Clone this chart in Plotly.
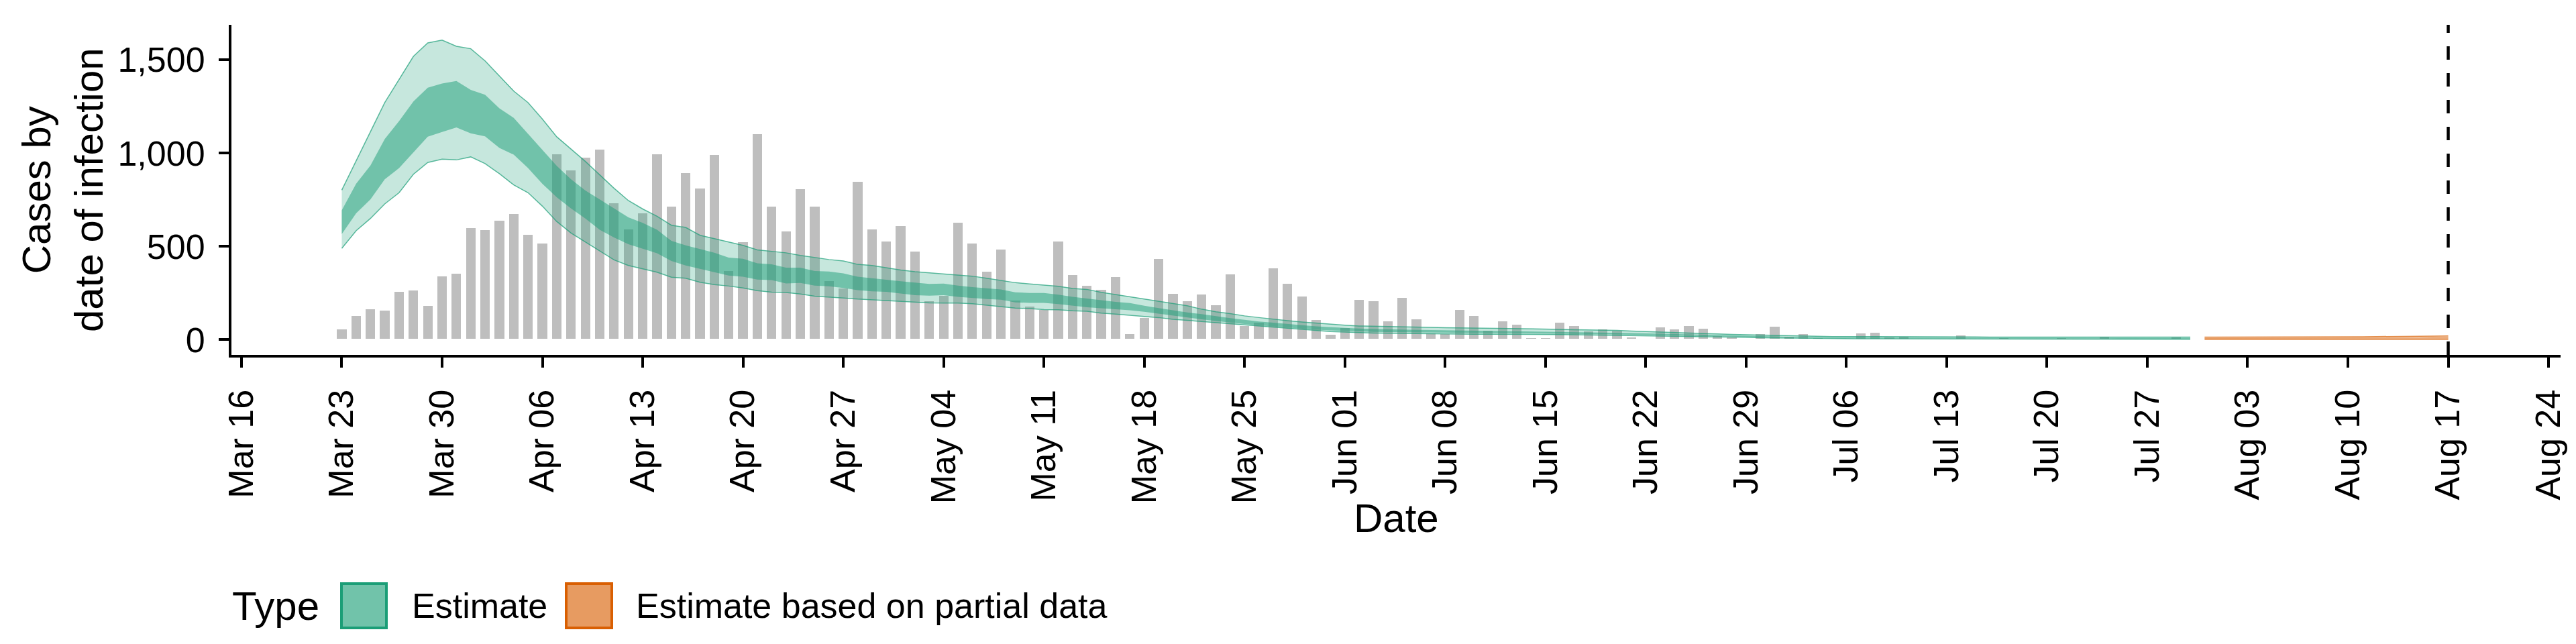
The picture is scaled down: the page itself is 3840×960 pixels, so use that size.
import datetime as dt
import pandas as pd
import plotly.graph_objects as go

# data
START = "2020-03-23"
PARTIAL_START = "2020-07-31"
FORECAST_DATE = "2020-08-17"

# reported cases by date, one value per day from START
cases = [
    58, 132, 168, 160, 261, 269, 186, 343, 359, 602, 592, 643, 679, 567, 520, 999,
    911, 978, 1024, 734, 594, 683, 996, 719,
    896, 815, 993, 371, 527, 1106, 716, 584, 811, 719, 317, 278, 851, 594, 532, 613,
    475, 212, 239, 630, 519, 367, 488, 215, 180, 164, 529, 351, 294, 270, 338, 34, 122,
    438, 249, 211, 247, 187, 353, 77, 96, 386, 305, 236, 108, 30, 68, 218, 209, 103,
    230, 112, 36, 33, 165, 130, 52, 104, 83, 12, 14, 94, 78, 48, 60, 53,
    16, 6, 71, 61, 78, 64, 23, 17, 6, 35, 74, 19, 33, 13, 8, 7, 37, 40, 16, 21, 5, 5,
    5, 28, 10, 10, 12, 4, 4, 4, 13, 4, 4, 18, 4, 4, 4, 4, 16,
]

# estimate ribbons (90% and 50% credible intervals), one value per day from START
est_upper_90 = [
    802, 956, 1115, 1271, 1393, 1519, 1591, 1606, 1573, 1560, 1495, 1414, 1333, 1271,
    1183, 1088, 1022, 956, 884, 812, 746, 701, 662, 614,
    602, 560, 542, 524, 506, 482, 474, 466, 452, 440, 430, 422, 404, 398, 386, 374,
    365, 359, 353, 348, 341, 330, 318, 306, 299, 293, 287, 275, 270, 254, 242, 230, 218,
    206, 194, 182, 164, 150, 140, 128, 119, 110, 102, 95, 89, 83, 78, 74, 72, 70, 68,
    67, 66, 65, 64, 64, 62, 61, 60, 59, 58, 56, 54, 53, 51, 50,
    47, 44, 42, 40, 37, 34, 31, 29, 27, 25, 23, 21, 19, 18, 17, 17, 17, 16, 16, 16,
    16, 15, 15, 15, 15, 14, 14, 14, 14, 14, 14, 14, 14, 14, 14, 14, 14, 14, 14, 14,
]
est_lower_90 = [
    490, 584, 650, 728, 788, 887, 950, 968, 964, 980, 944, 890, 830, 788, 716, 634,
    572, 524, 476, 428, 398, 380, 362, 335,
    330, 308, 296, 288, 278, 263, 255, 253, 245, 234, 230, 224, 218, 214, 210, 205,
    200, 198, 197, 197, 193, 186, 179, 170, 167, 162, 161, 155, 153, 143, 137, 131, 125,
    119, 110, 104, 98, 92, 86, 78, 72, 66, 60, 54, 49, 44, 41, 38, 36, 35, 34, 32, 31,
    31, 31, 30, 30, 30, 29, 29, 29, 28, 27, 26, 25, 24,
    23, 22, 21, 19, 18, 17, 16, 14, 13, 11, 10, 8, 7, 6, 6, 6, 5, 5, 5, 5, 5, 4, 4, 4,
    4, 4, 4, 4, 3, 3, 3, 3, 3, 3, 3, 3, 3, 3, 3, 3,
]
est_upper_50 = [
    694, 836, 934, 1076, 1172, 1277, 1351, 1373, 1387, 1339, 1313, 1240, 1189, 1102,
    1016, 932, 860, 800, 752, 704, 656, 626, 590, 530,
    506, 486, 466, 440, 434, 410, 404, 386, 386, 368, 366, 356, 338, 330, 323, 314,
    306, 299, 301, 290, 282, 275, 270, 254, 251, 251, 242, 230, 221, 212, 203, 197, 182,
    170, 158, 146, 137, 126, 116, 107, 98, 92, 84, 78, 72, 67, 64, 60, 58, 55, 54, 53,
    52, 51, 50, 49, 48, 47, 46, 45, 44, 43, 42, 40, 39, 37,
    36, 34, 32, 30, 28, 26, 24, 22, 21, 19, 18, 16, 15, 14, 13, 13, 12, 12, 12, 12,
    11, 11, 11, 11, 11, 10, 10, 10, 10, 10, 10, 10, 10, 10, 10, 10, 10, 10, 10, 10,
]
est_lower_50 = [
    566, 678, 752, 860, 920, 1004, 1088, 1114, 1138, 1106, 1090, 1028, 992, 920, 836,
    764, 704, 650, 590, 548, 512, 488, 464, 422,
    398, 380, 362, 344, 338, 323, 320, 302, 305, 290, 287, 278, 266, 260, 257, 248,
    239, 236, 239, 230, 224, 218, 215, 200, 198, 198, 191, 182, 174, 169, 164, 158, 150,
    140, 128, 119, 110, 101, 92, 84, 77, 71, 65, 59, 54, 50, 47, 44, 42, 41, 40, 39,
    39, 38, 38, 37, 36, 36, 35, 35, 34, 34, 33, 32, 31, 29,
    28, 27, 25, 23, 22, 20, 18, 17, 15, 14, 13, 12, 11, 10, 9, 9, 9, 8, 8, 8, 8, 7, 7,
    7, 7, 7, 6, 6, 6, 6, 6, 6, 6, 6, 5, 5, 5, 5, 5, 5,
]

# estimate based on partial data, one value per day from PARTIAL_START
partial_upper_90 = [14, 14, 14, 14, 15, 15, 15, 15, 15, 16, 16, 16, 17, 17, 18, 19, 20, 21]
partial_lower_90 = [2, 2, 2, 2, 2, 2, 2, 2, 2, 2, 2, 2, 2, 2, 2, 2, 2, 2]
partial_upper_50 = [10, 10, 10, 10, 10, 10, 11, 11, 11, 11, 11, 11, 12, 12, 12, 12, 13, 13]
partial_lower_50 = [5, 5, 5, 5, 5, 5, 5, 5, 5, 5, 5, 5, 5, 6, 6, 6, 6, 6]

# colours (Dark2)
GREEN = (27, 158, 119)
ORANGE = (217, 95, 2)
FONT = "Liberation Sans, Arial, Helvetica, sans-serif"

W, H = 3840, 960
PLOT_L, PLOT_R, PLOT_T, PLOT_B = 337, 3809, 29, 521


def rgba(c, a):
    return f"rgba({c[0]},{c[1]},{c[2]},{a})"


def px_x(px):
    return (px - PLOT_L) / (PLOT_R - PLOT_L)


def px_y(py):
    return (PLOT_B - py) / (PLOT_B - PLOT_T)


case_dates = pd.date_range(START, periods=len(cases), freq="D")
est_dates = pd.date_range(START, periods=len(est_upper_90), freq="D")
part_dates = pd.date_range(PARTIAL_START, periods=len(partial_upper_90), freq="D")

fig = go.Figure()

# reported cases
fig.add_bar(
    x=case_dates,
    y=cases,
    width=0.76 * 86400000,
    marker=dict(color="#bebebe", line=dict(color="white", width=2)),
    showlegend=False,
)


def add_ribbon(dates, lo90, hi90, lo50, hi50, col):
    fig.add_scatter(x=dates, y=lo90, mode="lines",
                    line=dict(color=rgba(col, 0.7), width=1.5), showlegend=False)
    fig.add_scatter(x=dates, y=hi90, mode="lines", fill="tonexty",
                    fillcolor=rgba(col, 0.25),
                    line=dict(color=rgba(col, 0.7), width=1.5), showlegend=False)
    fig.add_scatter(x=dates, y=lo50, mode="lines",
                    line=dict(width=0, color=rgba(col, 0)), showlegend=False)
    fig.add_scatter(x=dates, y=hi50, mode="lines", fill="tonexty",
                    fillcolor=rgba(col, 0.5),
                    line=dict(width=0, color=rgba(col, 0)), showlegend=False)


add_ribbon(est_dates, est_lower_90, est_upper_90, est_lower_50, est_upper_50, GREEN)
add_ribbon(part_dates, partial_lower_90, partial_upper_90,
           partial_lower_50, partial_upper_50, ORANGE)

# forecast date
fig.add_shape(
    type="line", xref="x", yref="paper",
    x0=FORECAST_DATE, x1=FORECAST_DATE, y0=0, y1=1,
    line=dict(color="black", width=4.5, dash="20px,20px"),
    layer="above",
)

start = dt.datetime(2020, 3, 23)
x_range = [start + dt.timedelta(days=-7.7), start + dt.timedelta(days=154.84)]

axis_common = dict(
    showline=True, linecolor="black", linewidth=4,
    ticks="outside", ticklen=15, tickwidth=4, tickcolor="black",
    showgrid=False, zeroline=False,
    tickfont=dict(family=FONT, size=52, color="black"),
)

fig.update_xaxes(
    **axis_common,
    type="date",
    range=x_range,
    tick0="2020-03-16",
    dtick=7 * 86400000,
    tickformat="%b %d",
    tickangle=-90,
    ticklabelstandoff=12,
)
fig.update_yaxes(
    **axis_common,
    range=[-81, 1688],
    tick0=0,
    dtick=500,
    tickformat=",d",
    ticklabelstandoff=10,
)

# axis titles
fig.add_annotation(
    text="Date", xref="paper", yref="paper", x=0.5, y=px_y(764),
    xanchor="center", yanchor="middle", showarrow=False,
    font=dict(family=FONT, size=60, color="black"),
)
fig.add_annotation(
    text="Cases by<br>date of infection", xref="paper", yref="paper",
    x=px_x(85), y=0.5, xanchor="center", yanchor="middle", textangle=-90,
    showarrow=False, font=dict(family=FONT, size=60, color="black"),
)

# legend (drawn by hand to match the ggplot key sizes)
LEG_Y = 895
fig.add_annotation(
    text="Type", xref="paper", yref="paper", x=px_x(336), y=px_y(LEG_Y),
    xanchor="left", yanchor="middle", showarrow=False,
    font=dict(family=FONT, size=60, color="black"),
)
for (x0, x1, col, label, tx) in [
    (501, 568, GREEN, "Estimate", 604),
    (836, 904, ORANGE, "Estimate based on partial data", 938),
]:
    fig.add_shape(
        type="rect", xref="paper", yref="paper",
        x0=px_x(x0), x1=px_x(x1), y0=px_y(LEG_Y + 33), y1=px_y(LEG_Y - 33),
        fillcolor=rgba(col, 0.625), line=dict(color=rgba(col, 1), width=4),
    )
    fig.add_annotation(
        text=label, xref="paper", yref="paper", x=px_x(tx), y=px_y(LEG_Y),
        xanchor="left", yanchor="middle", showarrow=False,
        font=dict(family=FONT, size=52, color="black"),
    )

fig.update_layout(
    width=W,
    height=H,
    margin=dict(l=PLOT_L, r=W - PLOT_R, t=PLOT_T, b=H - PLOT_B),
    plot_bgcolor="white",
    paper_bgcolor="white",
    showlegend=False,
    bargap=0,
    font=dict(family=FONT, color="black"),
)

fig.write_html("out.html")
